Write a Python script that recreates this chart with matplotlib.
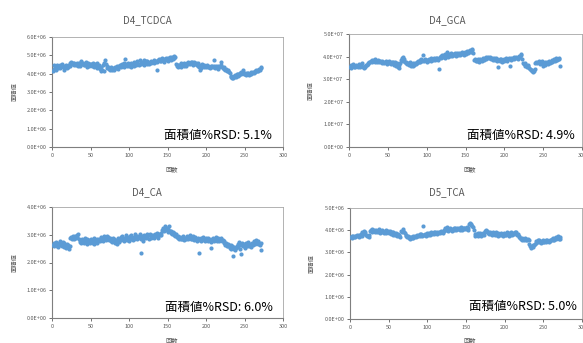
import matplotlib
matplotlib.use("Agg")
import matplotlib.pyplot as plt
from matplotlib.ticker import FuncFormatter

plt.rcParams['font.family'] = ['Noto Sans CJK JP', 'DejaVu Sans']

titles = ["D4_TCDCA", "D4_GCA", "D4_CA", "D5_TCA"]
rsd_labels = ["面積値%RSD: 5.1%", "面積値%RSD: 4.9%", "面積値%RSD: 6.0%", "面積値%RSD: 5.0%"]
scales = [1e6, 1e7, 1e6, 1e6]
y_tops = [6, 5, 4, 5]

# peak areas, in units of the scale above, injections 1..272
tcdca = [
    4.12, 4.28, 4.45, 4.35, 4.22, 4.40, 4.48, 4.33, 4.42, 4.30,
    4.46, 4.38, 4.52, 4.40, 4.18, 4.36, 4.44, 4.50, 4.30, 4.42,
    4.38, 4.50, 4.44, 4.56, 4.66, 4.52, 4.60, 4.56, 4.48, 4.55,
    4.47, 4.60, 4.54, 4.44, 4.57, 4.50, 4.42, 4.68, 4.52, 4.60,
    4.45, 4.55, 4.48, 4.62, 4.38, 4.50, 4.58, 4.44, 4.52, 4.46,
    4.55, 4.40, 4.58, 4.48, 4.36, 4.52, 4.45, 4.56, 4.30, 4.42,
    4.50, 4.26, 4.38, 4.14, 4.22, 4.46, 4.12, 4.60, 4.74, 4.55,
    4.40, 4.30, 4.36, 4.28, 4.22, 4.35, 4.28, 4.18, 4.32, 4.25,
    4.20, 4.36, 4.30, 4.44, 4.34, 4.27, 4.42, 4.50, 4.37, 4.46,
    4.52, 4.40, 4.60, 4.36, 4.82, 4.55, 4.42, 4.48, 4.58, 4.40,
    4.50, 4.36, 4.58, 4.46, 4.54, 4.64, 4.44, 4.57, 4.50, 4.62,
    4.68, 4.54, 4.48, 4.74, 4.60, 4.52, 4.65, 4.57, 4.72, 4.50,
    4.62, 4.68, 4.55, 4.70, 4.60, 4.52, 4.64, 4.56, 4.70, 4.62,
    4.66, 4.74, 4.58, 4.62, 4.70, 4.18, 4.64, 4.72, 4.80, 4.68,
    4.78, 4.70, 4.84, 4.76, 4.66, 4.82, 4.74, 4.88, 4.78, 4.70,
    4.86, 4.80, 4.92, 4.76, 4.84, 4.90, 4.82, 4.96, 4.86, 4.92,
    4.52, 4.40, 4.48, 4.36, 4.50, 4.42, 4.56, 4.38, 4.46, 4.52,
    4.44, 4.58, 4.50, 4.40, 4.56, 4.62, 4.52, 4.60, 4.54, 4.64,
    4.56, 4.62, 4.50, 4.58, 4.66, 4.52, 4.60, 4.48, 4.56, 4.42,
    4.35, 4.20, 4.30, 4.45, 4.52, 4.40, 4.48, 4.36, 4.44, 4.38,
    4.46, 4.34, 4.42, 4.38, 4.30, 4.44, 4.36, 4.42, 4.34, 4.76,
    4.40, 4.32, 4.44, 4.36, 4.28, 4.42, 4.34, 4.40, 4.46, 4.64,
    4.38, 4.30, 4.34, 4.26, 4.22, 4.28, 4.16, 4.20, 4.12, 4.08,
    4.02, 3.90, 3.82, 3.74, 3.78, 3.86, 3.80, 3.92, 3.84, 3.96,
    3.90, 4.00, 3.94, 4.06, 3.98, 4.10, 4.02, 4.20, 3.96, 4.04,
    3.98, 3.92, 4.02, 3.96, 4.06, 3.94, 4.00, 4.08, 3.98, 4.04,
    4.10, 4.02, 4.14, 4.08, 4.18, 4.12, 4.22, 4.16, 4.26, 4.20,
    4.30, 4.36,
]
gca = [
    3.55, 3.62, 3.50, 3.58, 3.66, 3.54, 3.60, 3.52, 3.64, 3.57,
    3.60, 3.55, 3.68, 3.52, 3.62, 3.58, 3.70, 3.54, 3.48, 3.60,
    3.56, 3.64, 3.62, 3.72, 3.66, 3.78, 3.74, 3.82, 3.76, 3.86,
    3.80, 3.84, 3.78, 3.88, 3.82, 3.76, 3.84, 3.80, 3.74, 3.82,
    3.78, 3.72, 3.80, 3.76, 3.70, 3.78, 3.74, 3.82, 3.68, 3.76,
    3.72, 3.80, 3.74, 3.66, 3.78, 3.70, 3.76, 3.62, 3.74, 3.68,
    3.60, 3.72, 3.56, 3.64, 3.50, 3.70, 3.86, 3.92, 3.80, 4.00,
    3.88, 3.78, 3.70, 3.76, 3.66, 3.72, 3.62, 3.68, 3.74, 3.60,
    3.66, 3.58, 3.70, 3.64, 3.72, 3.68, 3.76, 3.70, 3.80, 3.74,
    3.84, 3.78, 3.88, 3.82, 4.08, 3.86, 3.80, 3.90, 3.84, 3.78,
    3.86, 3.80, 3.88, 3.84, 3.92, 3.82, 3.90, 3.86, 3.94, 3.88,
    3.84, 3.92, 3.96, 3.90, 3.86, 3.44, 3.98, 4.02, 3.94, 4.06,
    4.00, 4.08, 3.96, 4.12, 4.04, 4.20, 4.08, 4.00, 4.10, 4.04,
    4.14, 4.02, 4.08, 4.12, 4.06, 4.16, 4.10, 4.04, 4.14, 4.08,
    4.18, 4.12, 4.06, 4.16, 4.10, 4.20, 4.14, 4.08, 4.22, 4.16,
    4.12, 4.24, 4.18, 4.26, 4.20, 4.28, 4.22, 4.30, 4.32, 4.18,
    3.84, 3.90, 3.80, 3.86, 3.82, 3.88, 3.78, 3.84, 3.90, 3.86,
    3.82, 3.88, 3.94, 3.86, 3.92, 3.98, 3.90, 3.96, 4.00, 3.94,
    3.98, 3.92, 3.88, 3.96, 3.90, 3.84, 3.94, 3.86, 3.92, 3.80,
    3.88, 3.56, 3.84, 3.90, 3.82, 3.88, 3.78, 3.86, 3.80, 3.90,
    3.84, 3.92, 3.86, 3.80, 3.88, 3.94, 3.58, 3.86, 3.92, 3.88,
    3.96, 3.90, 3.98, 3.92, 4.00, 3.94, 3.88, 3.96, 4.02, 3.98,
    4.06, 4.10, 3.90, 3.72, 3.66, 3.60, 3.70, 3.62, 3.56, 3.64,
    3.58, 3.50, 3.44, 3.40, 3.36, 3.42, 3.34, 3.38, 3.46, 3.72,
    3.76, 3.70, 3.78, 3.74, 3.80, 3.68, 3.76, 3.82, 3.72, 3.60,
    3.66, 3.74, 3.62, 3.70, 3.78, 3.68, 3.74, 3.80, 3.72, 3.78,
    3.84, 3.76, 3.82, 3.88, 3.80, 3.86, 3.92, 3.84, 3.90, 3.94,
    3.88, 3.60,
]
ca = [
    2.62, 2.70, 2.58, 2.66, 2.74, 2.60, 2.68, 2.55, 2.72, 2.64,
    2.78, 2.66, 2.60, 2.74, 2.56, 2.70, 2.62, 2.52, 2.68, 2.58,
    2.64, 2.50, 2.60, 2.88, 2.92, 2.84, 2.96, 2.90, 2.86, 2.94,
    2.88, 2.98, 2.92, 3.02, 2.84, 2.74, 2.80, 2.70, 2.86, 2.76,
    2.82, 2.72, 2.88, 2.78, 2.68, 2.84, 2.74, 2.80, 2.70, 2.86,
    2.76, 2.82, 2.72, 2.88, 2.66, 2.80, 2.74, 2.84, 2.70, 2.78,
    2.86, 2.76, 2.92, 2.82, 2.88, 2.78, 2.94, 2.84, 2.90, 2.80,
    2.96, 2.86, 2.92, 2.82, 2.88, 2.78, 2.84, 2.74, 2.90, 2.80,
    2.86, 2.72, 2.82, 2.68, 2.78, 2.88, 2.74, 2.84, 2.92, 2.80,
    2.96, 2.86, 2.78, 2.90, 2.84, 2.98, 2.80, 2.92, 2.86, 2.76,
    2.94, 2.84, 3.00, 2.88, 2.80, 2.92, 2.86, 3.02, 2.90, 2.84,
    2.96, 2.88, 2.92, 3.04, 2.86, 2.36, 2.94, 2.78, 3.00, 2.90,
    2.96, 2.88, 3.02, 2.92, 2.98, 2.86, 3.04, 2.94, 2.90, 3.00,
    2.92, 2.98, 2.88, 3.02, 2.94, 3.06, 2.96, 2.90, 3.04, 2.98,
    3.08, 3.00, 3.18, 3.26, 3.12, 3.22, 3.30, 3.16, 3.24, 3.10,
    3.20, 3.32, 3.14, 3.06, 3.12, 3.04, 3.10, 3.00, 3.06, 2.96,
    3.02, 2.92, 2.88, 2.96, 2.86, 2.92, 2.84, 2.90, 2.86, 2.94,
    2.88, 2.82, 2.90, 2.86, 2.94, 2.88, 2.84, 2.92, 2.98, 2.86,
    2.90, 2.84, 2.94, 2.88, 2.80, 2.92, 2.86, 2.78, 2.84, 2.90,
    2.36, 2.82, 2.88, 2.78, 2.86, 2.92, 2.80, 2.84, 2.76, 2.88,
    2.82, 2.90, 2.78, 2.86, 2.80, 2.74, 2.54, 2.84, 2.88, 2.78,
    2.86, 2.80, 2.92, 2.76, 2.84, 2.88, 2.78, 2.82, 2.90, 2.84,
    2.76, 2.82, 2.70, 2.78, 2.64, 2.72, 2.60, 2.68, 2.58, 2.64,
    2.54, 2.62, 2.50, 2.58, 2.24, 2.48, 2.56, 2.46, 2.52, 2.60,
    2.68, 2.56, 2.74, 2.50, 2.32, 2.62, 2.70, 2.58, 2.66, 2.54,
    2.62, 2.70, 2.58, 2.66, 2.74, 2.60, 2.68, 2.56, 2.64, 2.72,
    2.62, 2.78, 2.70, 2.66, 2.82, 2.74, 2.68, 2.76, 2.70, 2.64,
    2.72, 2.44,
]
tca = [
    3.68, 3.74, 3.66, 3.72, 3.70, 3.76, 3.68, 3.74, 3.80, 3.72,
    3.78, 3.70, 3.76, 3.82, 3.74, 3.94, 3.88, 3.96, 3.84, 3.90,
    3.80, 3.72, 3.76, 3.70, 3.78, 3.98, 4.02, 3.94, 4.04, 3.96,
    4.00, 3.92, 4.02, 3.96, 3.90, 3.98, 4.04, 3.94, 3.88, 3.96,
    4.00, 3.90, 3.96, 3.86, 3.94, 4.00, 3.88, 3.92, 3.98, 3.86,
    3.92, 3.96, 3.84, 3.90, 3.80, 3.94, 3.86, 3.78, 3.88, 3.82,
    3.76, 3.84, 3.72, 3.80, 3.70, 3.96, 3.90, 3.98, 4.04, 3.94,
    3.86, 3.78, 3.74, 3.68, 3.72, 3.64, 3.70, 3.62, 3.68, 3.66,
    3.72, 3.64, 3.70, 3.76, 3.68, 3.74, 3.80, 3.72, 3.78, 3.84,
    3.76, 3.82, 3.74, 3.80, 4.18, 3.78, 3.84, 3.76, 3.82, 3.88,
    3.80, 3.86, 3.78, 3.84, 3.90, 3.82, 3.88, 3.94, 3.84, 3.90,
    3.86, 3.92, 3.84, 3.88, 3.94, 3.90, 3.86, 3.96, 3.92, 3.88,
    4.00, 3.96, 4.08, 4.02, 4.16, 4.06, 3.98, 4.04, 4.10, 4.00,
    4.06, 3.98, 4.04, 4.10, 4.02, 4.08, 4.00, 4.06, 4.12, 4.04,
    4.10, 4.02, 4.14, 4.06, 4.00, 4.08, 4.12, 4.04, 4.10, 4.06,
    4.14, 4.08, 4.02, 4.26, 4.32, 4.24, 4.30, 4.20, 4.14, 4.02,
    3.82, 3.76, 3.84, 3.78, 3.86, 3.74, 3.80, 3.88, 3.76, 3.82,
    3.78, 3.86, 3.80, 3.92, 3.98, 4.02, 3.96, 3.92, 3.88, 3.84,
    3.90, 3.82, 3.88, 3.80, 3.94, 3.86, 3.78, 3.84, 3.90, 3.80,
    3.86, 3.76, 3.84, 3.80, 3.88, 3.78, 3.82, 3.76, 3.86, 3.80,
    3.84, 3.78, 3.90, 3.82, 3.76, 3.86, 3.80, 3.92, 3.84, 3.78,
    3.88, 3.82, 3.94, 3.86, 3.90, 3.80, 3.84, 3.76, 3.70, 3.64,
    3.60, 3.66, 3.58, 3.62, 3.56, 3.64, 3.58, 3.60, 3.54, 3.62,
    3.56, 3.40, 3.30, 3.22, 3.28, 3.34, 3.26, 3.32, 3.38, 3.44,
    3.50, 3.46, 3.54, 3.48, 3.56, 3.50, 3.44, 3.52, 3.48, 3.54,
    3.46, 3.52, 3.56, 3.48, 3.54, 3.50, 3.46, 3.56, 3.52, 3.58,
    3.62, 3.54, 3.66, 3.58, 3.64, 3.70, 3.60, 3.66, 3.72, 3.62,
    3.68, 3.60,
]
series = [tcdca, gca, ca, tca]
x_ticks = [0, 50, 100, 150, 200, 250, 300]

W, H = 583, 343
fig = plt.figure(figsize=(W / 100, H / 100), dpi=100)

# axes boxes in pixels: left, top, right, bottom
boxes = [(52, 37, 283, 147), (349, 34, 582, 147), (52, 207, 283, 318), (350, 208, 582, 319)]
title_pos = [(147, 20), (447, 20), (147, 192), (447, 192)]
rsd_pos = [(272, 135), (575, 135), (273, 307), (577, 306)]
ylab_x = [15, 311, 15, 312]
xlab_y = [169, 169, 340, 340]

blue = '#5B9BD5'
grey = '#595959'

for i, vals in enumerate(series):
    l, t, r, b = boxes[i]
    ax = fig.add_axes([l / W, 1 - b / H, (r - l) / W, (b - t) / H])
    xs = list(range(1, len(vals) + 1))
    ys = [v * scales[i] for v in vals]
    ax.scatter(xs, ys, s=9, color=blue, linewidths=0, zorder=3)
    ax.set_xlim(0, 300)
    ax.set_ylim(0, y_tops[i] * scales[i])
    ax.set_xticks(x_ticks)
    ax.set_yticks([k * scales[i] for k in range(y_tops[i] + 1)])
    ax.yaxis.set_major_formatter(FuncFormatter(lambda v, p: f"{v:.1E}"))
    ax.tick_params(labelsize=4, colors=grey, length=2, width=0.6, pad=2)
    for side in ['left', 'bottom']:
        ax.spines[side].set_color('#7F7F7F')
        ax.spines[side].set_linewidth(0.8)
    for side in ['top', 'right']:
        ax.spines[side].set_color('#A6A6A6')
        ax.spines[side].set_linewidth(0.6)

    tx, ty = title_pos[i]
    fig.text(tx / W, 1 - ty / H, titles[i], ha='center', va='center', fontsize=7, color=grey)
    rx, ry = rsd_pos[i]
    fig.text(rx / W, 1 - ry / H, rsd_labels[i], ha='right', va='center', fontsize=9, color='black')
    fig.text(ylab_x[i] / W, 1 - ((t + b) / 2) / H, "面積値", rotation=90,
             ha='center', va='center', fontsize=4.5, color=grey)
    fig.text(((l + r) / 2 + 4) / W, 1 - xlab_y[i] / H, "回数", ha='center', va='center',
             fontsize=4.5, color=grey)

fig.savefig("out.png", dpi=100)
